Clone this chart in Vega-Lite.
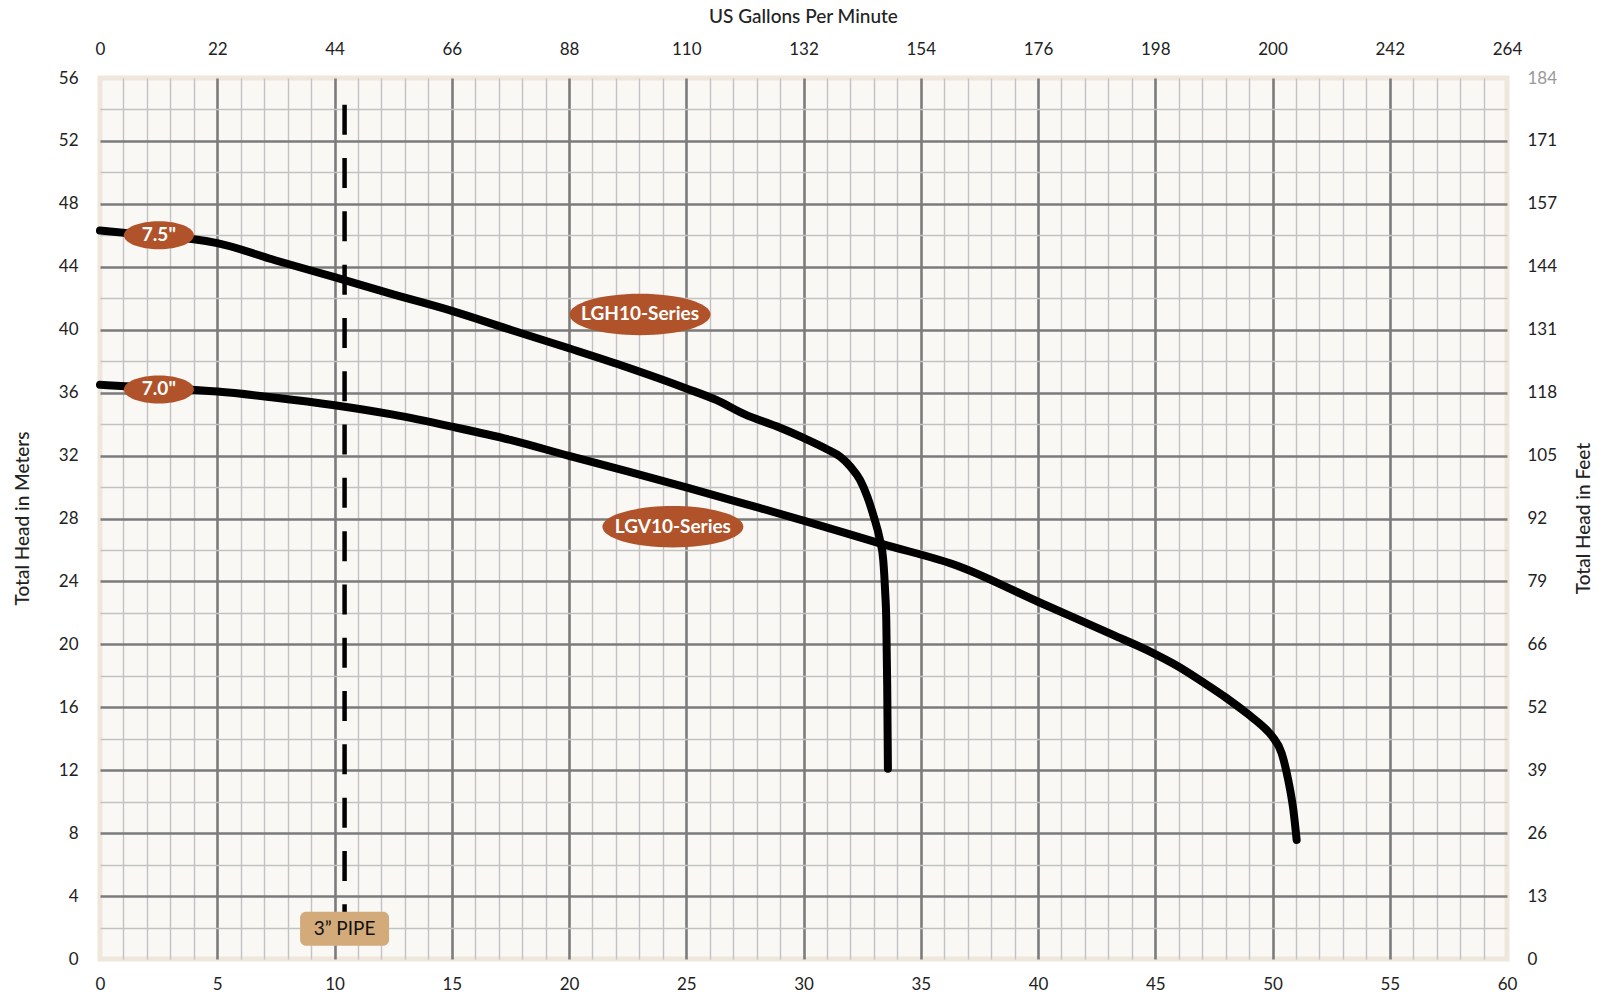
{
  "$schema": "https://vega.github.io/schema/vega-lite/v6.json",
  "width": 1407,
  "height": 881,
  "autosize": {"type": "none"},
  "padding": {"left": 100, "top": 78, "right": 92, "bottom": 38},
  "background": "white",
  "config": {
    "view": {"fill": "#f9f8f5", "stroke": "#efe6dc", "strokeWidth": 5},
    "font": "Lato",
    "axis": {
      "labelFont": "Lato",
      "labelFontSize": 17,
      "labelColor": "#222222",
      "titleFont": "Lato",
      "titleFontSize": 19,
      "titleFontWeight": 500,
      "titleColor": "#222222",
      "ticks": false,
      "domain": false,
      "labelOverlap": false,
      "labelFlush": false
    }
  },
  "datasets": {
    "curves": [
      {"model": "LGH10-Series", "flow": 0, "head": 46.3},
      {"model": "LGH10-Series", "flow": 2.5, "head": 45.95},
      {"model": "LGH10-Series", "flow": 4, "head": 45.75},
      {"model": "LGH10-Series", "flow": 5, "head": 45.5},
      {"model": "LGH10-Series", "flow": 7.5, "head": 44.4},
      {"model": "LGH10-Series", "flow": 10, "head": 43.34},
      {"model": "LGH10-Series", "flow": 12.5, "head": 42.25},
      {"model": "LGH10-Series", "flow": 15, "head": 41.2},
      {"model": "LGH10-Series", "flow": 17.5, "head": 40.0},
      {"model": "LGH10-Series", "flow": 20, "head": 38.82},
      {"model": "LGH10-Series", "flow": 22.5, "head": 37.6},
      {"model": "LGH10-Series", "flow": 25, "head": 36.27},
      {"model": "LGH10-Series", "flow": 26.3, "head": 35.52},
      {"model": "LGH10-Series", "flow": 27.5, "head": 34.62},
      {"model": "LGH10-Series", "flow": 28.85, "head": 33.86},
      {"model": "LGH10-Series", "flow": 30, "head": 33.12},
      {"model": "LGH10-Series", "flow": 31, "head": 32.4},
      {"model": "LGH10-Series", "flow": 31.56, "head": 31.93},
      {"model": "LGH10-Series", "flow": 32, "head": 31.3},
      {"model": "LGH10-Series", "flow": 32.41, "head": 30.45},
      {"model": "LGH10-Series", "flow": 32.72, "head": 29.39},
      {"model": "LGH10-Series", "flow": 33.0, "head": 28.1},
      {"model": "LGH10-Series", "flow": 33.26, "head": 26.64},
      {"model": "LGH10-Series", "flow": 33.4, "head": 25.36},
      {"model": "LGH10-Series", "flow": 33.48, "head": 23.4},
      {"model": "LGH10-Series", "flow": 33.53, "head": 21.5},
      {"model": "LGH10-Series", "flow": 33.57, "head": 17.3},
      {"model": "LGH10-Series", "flow": 33.6, "head": 12.1},
      {"model": "LGV10-Series", "flow": 0, "head": 36.5},
      {"model": "LGV10-Series", "flow": 2.5, "head": 36.3},
      {"model": "LGV10-Series", "flow": 5, "head": 36.07},
      {"model": "LGV10-Series", "flow": 7.5, "head": 35.68},
      {"model": "LGV10-Series", "flow": 10, "head": 35.2},
      {"model": "LGV10-Series", "flow": 12.5, "head": 34.6},
      {"model": "LGV10-Series", "flow": 15, "head": 33.84},
      {"model": "LGV10-Series", "flow": 17.5, "head": 33.0},
      {"model": "LGV10-Series", "flow": 20, "head": 31.98},
      {"model": "LGV10-Series", "flow": 22.5, "head": 31.0},
      {"model": "LGV10-Series", "flow": 25, "head": 29.98},
      {"model": "LGV10-Series", "flow": 27.5, "head": 28.93},
      {"model": "LGV10-Series", "flow": 30, "head": 27.87},
      {"model": "LGV10-Series", "flow": 33.26, "head": 26.42},
      {"model": "LGV10-Series", "flow": 36.67, "head": 24.94},
      {"model": "LGV10-Series", "flow": 40, "head": 22.71},
      {"model": "LGV10-Series", "flow": 43.2, "head": 20.6},
      {"model": "LGV10-Series", "flow": 44.78, "head": 19.54},
      {"model": "LGV10-Series", "flow": 46, "head": 18.58},
      {"model": "LGV10-Series", "flow": 47, "head": 17.63},
      {"model": "LGV10-Series", "flow": 48, "head": 16.63},
      {"model": "LGV10-Series", "flow": 49, "head": 15.51},
      {"model": "LGV10-Series", "flow": 49.6, "head": 14.77},
      {"model": "LGV10-Series", "flow": 50.0, "head": 14.13},
      {"model": "LGV10-Series", "flow": 50.39, "head": 13.08},
      {"model": "LGV10-Series", "flow": 50.67, "head": 11.38},
      {"model": "LGV10-Series", "flow": 50.89, "head": 9.47},
      {"model": "LGV10-Series", "flow": 51.03, "head": 7.57}
    ],
    "pipe": [
      {"label": "3” PIPE", "flow": 10.43, "head_top": 54.3, "head_bottom": 2.2, "head": 1.93}
    ],
    "labels": [
      {"label": "7.5\"", "kind": "impeller", "flow": 2.51, "head": 46.0},
      {"label": "7.0\"", "kind": "impeller", "flow": 2.51, "head": 36.2},
      {"label": "LGH10-Series", "kind": "series", "flow": 23.03, "head": 40.97},
      {"label": "LGV10-Series", "kind": "series", "flow": 24.43, "head": 27.47}
    ]
  },
  "layer": [
    {
      "data": {"name": "curves"},
      "mark": {"type": "line", "color": "#000000", "strokeWidth": 8, "strokeCap": "round", "strokeJoin": "round", "interpolate": "monotone"},
      "encoding": {
        "x": {
          "field": "flow", "type": "quantitative",
          "scale": {"domain": [0, 60], "nice": false, "zero": false},
          "axis": {
            "orient": "bottom",
            "title": null,
            "values": [0,1,2,3,4,5,6,7,8,9,10,11,12,13,14,15,16,17,18,19,20,21,22,23,24,25,26,27,28,29,30,31,32,33,34,35,36,37,38,39,40,41,42,43,44,45,46,47,48,49,50,51,52,53,54,55,56,57,58,59,60],
            "labelExpr": "datum.value % 5 === 0 ? datum.label : ''",
            "labelPadding": 17,
            "grid": true,
            "gridColor": {"condition": {"test": "datum.value % 5 === 0", "value": "#7b7b7b"}, "value": "#c2c2c2"},
            "gridWidth": {"condition": {"test": "datum.value % 5 === 0", "value": 2.6}, "value": 1.4},
            "gridOpacity": {"condition": {"test": "datum.value === 0 || datum.value === 60", "value": 0}, "value": 1}
          }
        },
        "y": {
          "field": "head", "type": "quantitative",
          "scale": {"domain": [0, 56], "nice": false, "zero": false},
          "axis": {
            "orient": "left",
            "title": "Total Head in Meters",
            "values": [0,2,4,6,8,10,12,14,16,18,20,22,24,26,28,30,32,34,36,38,40,42,44,46,48,50,52,54,56],
            "labelExpr": "datum.value % 4 === 0 ? datum.label : ''",
            "labelPadding": 22,
            "grid": true,
            "gridColor": {"condition": {"test": "datum.value % 4 === 0", "value": "#7b7b7b"}, "value": "#c2c2c2"},
            "gridWidth": {"condition": {"test": "datum.value % 4 === 0", "value": 2.6}, "value": 1.4},
            "gridOpacity": {"condition": {"test": "datum.value === 0 || datum.value === 56", "value": 0}, "value": 1},
            "titleAngle": 270,
            "titleX": -78,
            "titleY": 440,
            "titleAlign": "center",
            "titleBaseline": "middle"
          }
        },
        "detail": {"field": "model", "type": "nominal"}
      }
    },
    {
      "data": {"name": "pipe"},
      "mark": {"type": "rule", "color": "#000000", "strokeWidth": 4.5, "strokeDash": [30, 23.3]},
      "encoding": {
        "x": {
          "field": "flow", "type": "quantitative",
          "axis": {
            "orient": "top",
            "title": "US Gallons Per Minute",
            "values": [0,5,10,15,20,25,30,35,40,45,50,55,60],
            "labelExpr": "datum.value === 50 ? '200' : format(datum.value * 4.4, '.0f')",
            "labelPadding": 20,
            "grid": false,
            "titleX": 703,
            "titleY": -62,
            "titleAlign": "center",
            "titleBaseline": "middle"
          }
        },
        "y": {
          "field": "head_top", "type": "quantitative",
          "axis": {
            "orient": "right",
            "title": "Total Head in Feet",
            "values": [0,4,8,12,16,20,24,28,32,36,40,44,48,52,56],
            "labelExpr": "format(datum.value * 3.2808, '.0f')",
            "labelColor": {"condition": {"test": "datum.value === 56", "value": "#999999"}, "value": "#222222"},
            "labelPadding": 20,
            "grid": false,
            "titleAngle": 270,
            "titleX": 76,
            "titleY": 440,
            "titleAlign": "center",
            "titleBaseline": "middle"
          }
        },
        "y2": {"field": "head_bottom"}
      }
    },
    {
      "data": {"name": "labels"},
      "transform": [{"filter": "datum.kind === 'impeller'"}],
      "mark": {"type": "point", "shape": "M-1,0A1,0.4,0,1,0,1,0A1,0.4,0,1,0,-1,0Z", "filled": true, "color": "#b0532a", "opacity": 1, "size": 4900, "strokeWidth": 0},
      "encoding": {
        "x": {"field": "flow", "type": "quantitative", "axis": null},
        "y": {"field": "head", "type": "quantitative", "axis": null}
      }
    },
    {
      "data": {"name": "labels"},
      "transform": [{"filter": "datum.kind === 'series'"}],
      "mark": {"type": "point", "shape": "M-1,0A1,0.294,0,1,0,1,0A1,0.294,0,1,0,-1,0Z", "filled": true, "color": "#b0532a", "opacity": 1, "size": 19881, "strokeWidth": 0},
      "encoding": {
        "x": {"field": "flow", "type": "quantitative", "axis": null},
        "y": {"field": "head", "type": "quantitative", "axis": null}
      }
    },
    {
      "data": {"name": "labels"},
      "mark": {"type": "text", "color": "#ffffff", "font": "Lato", "fontWeight": "bold", "fontSize": 19, "align": "center", "baseline": "middle"},
      "encoding": {
        "x": {"field": "flow", "type": "quantitative", "axis": null},
        "y": {"field": "head", "type": "quantitative", "axis": null},
        "text": {"field": "label"}
      }
    },
    {
      "data": {"name": "pipe"},
      "mark": {"type": "point", "shape": "M-0.865,-0.382L0.865,-0.382A0.135,0.135,0,0,1,1,-0.247L1,0.247A0.135,0.135,0,0,1,0.865,0.382L-0.865,0.382A0.135,0.135,0,0,1,-1,0.247L-1,-0.247A0.135,0.135,0,0,1,-0.865,-0.382Z", "filled": true, "color": "#d3ab7a", "opacity": 1, "size": 7921, "strokeWidth": 0},
      "encoding": {
        "x": {"field": "flow", "type": "quantitative", "axis": null},
        "y": {"field": "head", "type": "quantitative", "axis": null}
      }
    },
    {
      "data": {"name": "pipe"},
      "mark": {"type": "text", "color": "#111111", "font": "Lato", "fontSize": 19, "align": "center", "baseline": "middle"},
      "encoding": {
        "x": {"field": "flow", "type": "quantitative", "axis": null},
        "y": {"field": "head", "type": "quantitative", "axis": null},
        "text": {"field": "label"}
      }
    }
  ],
  "resolve": {"axis": {"x": "independent", "y": "independent"}}
}
